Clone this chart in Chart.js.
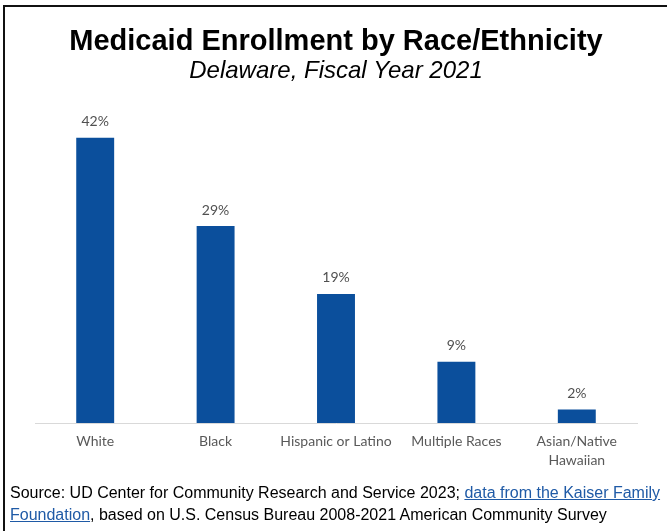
<!DOCTYPE html>
<html>
<head>
<meta charset="utf-8">
<title>Medicaid Enrollment by Race/Ethnicity</title>
<script src="https://cdn.jsdelivr.net/npm/chart.js@4.4.1/dist/chart.umd.min.js"></script>
<style>
  html, body { margin: 0; padding: 0; background: #fff; }
  #wrap { position: relative; width: 667px; height: 531px; overflow: hidden; }
  #frame {
    position: absolute; left: 3px; top: 5px; right: -10px; bottom: -10px;
    border-left: 2px solid #111; border-top: 2px solid #111;
  }
  #chart { position: absolute; left: 0; top: 0; }
  #source {
    position: absolute; left: 10px; top: 482px; width: 660px;
    font: 16px "Liberation Sans", Arial, sans-serif; line-height: 22px;
    color: #000; white-space: nowrap;
  }
  #source a { color: #1f5aa6; text-decoration: underline; }
</style>
</head>
<body>
<div id="wrap">
  <div id="frame"></div>
  <canvas id="chart" width="667" height="531"></canvas>
  <div id="source">
    Source: UD Center for Community Research and Service 2023; <a href="#">data from the Kaiser Family</a><br>
    <a href="#">Foundation</a>, based on U.S. Census Bureau 2008-2021 American Community Survey
  </div>
</div>

<script>
/******************************* data *******************************/
var categories = ["White", "Black", "Hispanic or Latino", "Multiple Races", ["Asian/Native", "Hawaiian"]];
var enrollmentPct = [42, 29, 19, 9, 2];

/************************ value labels on bars ***********************/
var barValueLabels = {
    id: "barValueLabels",
    afterDatasetsDraw: function (chart) {
        var ctx = chart.ctx;
        var meta = chart.getDatasetMeta(0);
        ctx.save();
        ctx.font = "14px Lato";
        ctx.fillStyle = "#505050";
        ctx.textAlign = "center";
        ctx.textBaseline = "middle";
        meta.data.forEach(function (bar, i) {
            ctx.fillText(enrollmentPct[i] + "%", bar.x, bar.y - 16);
        });
        ctx.restore();
    }
};

Chart.defaults.font.family = "Lato";

new Chart(document.getElementById("chart"), {
    type: "bar",
    data: {
        labels: categories,
        datasets: [{
            data: enrollmentPct,
            backgroundColor: "#0b4f9c",
            categoryPercentage: 1,
            barPercentage: 0.315
        }]
    },
    plugins: [barValueLabels],
    options: {
        responsive: false,
        animation: false,
        layout: { padding: { left: 35, right: 30, top: 0, bottom: 58 } },
        plugins: {
            legend: { display: false },
            tooltip: { enabled: false },
            title: {
                display: true,
                text: "Medicaid Enrollment by Race/Ethnicity",
                color: "#000",
                font: { family: "Liberation Sans", size: 29, weight: "bold", lineHeight: 1.1 },
                padding: { top: 26, bottom: 0 }
            },
            subtitle: {
                display: true,
                text: "Delaware, Fiscal Year 2021",
                color: "#000",
                font: { family: "Liberation Sans", size: 24, style: "italic", lineHeight: 1.1 },
                padding: { top: 0, bottom: 33 }
            }
        },
        scales: {
            y: { display: false, min: 0, max: 45 },
            x: {
                grid: { display: true, drawOnChartArea: false, drawTicks: false },
                border: { display: true, color: "#d9d9d9", width: 1 },
                ticks: {
                    color: "#595959",
                    font: { size: 14, lineHeight: 1.35 },
                    padding: 9,
                    maxRotation: 0,
                    autoSkip: false
                },
                afterFit: function (scale) { scale.height = 50; }
            }
        }
    }
});
</script>
</body>
</html>
